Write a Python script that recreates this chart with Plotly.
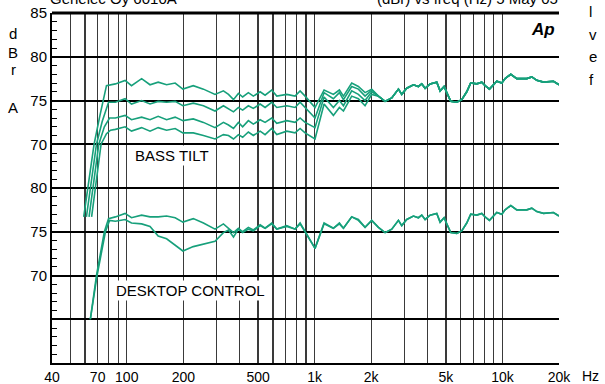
import math
import plotly.graph_objects as go

# ---------------- data (dBr A vs frequency, Hz) ----------------
# Bass-tilt family (upper block), four curves; individual bass roll-off
TILT1_LOW_F = [59, 63, 67, 72, 78]
TILT1_LOW_V = [61.7, 65.8, 70.0, 73.3, 76.7]
TILT2_LOW_F = [61, 65, 69, 74, 80]
TILT2_LOW_V = [61.7, 65.8, 70.0, 72.6, 74.8]
TILT3_LOW_F = [63, 67, 71, 76, 81]
TILT3_LOW_V = [61.7, 65.8, 70.0, 72.0, 73.0]
TILT4_LOW_F = [65, 69, 73, 78, 82]
TILT4_LOW_V = [61.7, 65.8, 70.0, 71.2, 71.6]

MID_F = [87, 98, 106, 120, 133, 147, 163, 181, 199, 226, 256, 295, 327, 348,
         370, 393, 414, 444, 472, 513, 545, 591, 629, 711, 787, 837, 890,
         1005, 1123, 1259, 1355, 1424, 1576, 1710, 1856, 2014]
TILT1_MID = [76.9, 77.3, 76.7, 77.5, 76.8, 77.1, 76.8, 77.0, 76.3, 76.7, 76.3,
             75.7, 76.1, 75.7, 75.1, 75.8, 75.4, 75.9, 75.5, 76.0, 75.6, 76.2,
             75.5, 75.7, 75.5, 76.1, 75.5, 74.2, 76.2, 75.7, 76.2, 75.5, 77.0,
             76.6, 75.9, 76.3]
TILT2_MID = [74.8, 75.2, 74.6, 75.0, 74.6, 74.9, 74.8, 74.9, 74.4, 74.7, 74.4,
             73.8, 74.4, 74.0, 73.7, 74.2, 73.9, 74.4, 74.1, 74.6, 74.2, 74.8,
             74.2, 74.4, 74.2, 74.8, 74.2, 73.0, 75.9, 75.2, 75.9, 75.1, 76.6,
             76.3, 75.5, 76.2]
TILT3_MID = [73.0, 73.3, 72.8, 73.1, 72.8, 73.2, 72.8, 73.1, 72.7, 72.9, 72.5,
             71.9, 72.5, 72.2, 71.8, 72.5, 72.0, 72.7, 72.3, 72.8, 72.5, 73.0,
             72.4, 72.7, 72.5, 73.0, 72.5, 71.9, 75.4, 74.2, 75.0, 74.4, 76.1,
             75.7, 75.0, 76.0]
TILT4_MID = [71.7, 72.0, 71.5, 71.9, 71.5, 71.9, 71.6, 71.8, 71.3, 71.3, 71.0,
             70.6, 71.1, 71.0, 70.6, 71.1, 70.8, 71.4, 71.0, 71.5, 71.1, 71.8,
             71.1, 71.5, 71.3, 71.8, 71.3, 70.6, 74.6, 73.3, 74.2, 73.8, 75.5,
             75.2, 74.4, 75.7]

# Desktop-control family (lower block, drawn 15 dB down as on the original)
DESK_A_LOW_F = [64, 69, 76, 80]
DESK_A_LOW_V = [65.0, 70.0, 75.0, 76.5]
DESK_B_LOW_F = [64, 69.5, 77, 81]
DESK_B_LOW_V = [65.0, 70.0, 75.0, 76.3]
DESK_A_MID = [76.7, 77.1, 76.6, 76.9, 76.7, 76.7, 76.8, 76.6, 76.1, 76.5, 76.0,
              75.3, 75.9, 75.4, 74.9, 75.4, 75.0, 75.5, 75.2, 75.8, 75.4, 76.0,
              75.3, 75.7, 75.3, 76.0, 75.0, 73.1, 76.0, 75.4, 76.0, 75.4, 76.7,
              76.4, 75.5, 76.3]
DESK_B_MID = [76.2, 76.4, 76.0, 75.9, 75.6, 74.5, 74.2, 73.5, 72.8, 73.3, 73.6,
              73.9, 74.9, 75.2, 74.4, 75.3, 74.9, 75.3, 75.1, 75.7, 75.4, 75.9,
              75.3, 75.6, 75.3, 75.9, 75.0, 73.1, 75.9, 75.4, 75.9, 75.4, 76.7,
              76.3, 75.5, 76.3]

# Treble response shared by all curves
TREBLE_F = [2186, 2372, 2575, 2794, 2910, 3094, 3358, 3569, 3719, 3874, 4118,
            4470, 4657, 4892, 5054, 5307, 5713, 6071, 6456, 6780, 7298, 7760,
            8083, 8527, 9331, 9919, 10333, 11076, 11921, 13478, 14330, 15236,
            16531, 18690, 20000]
TREBLE_V = [75.5, 74.9, 75.3, 76.3, 75.7, 76.4, 76.8, 76.6, 76.9, 76.4, 76.9,
            77.1, 76.1, 76.6, 75.9, 74.9, 74.8, 75.1, 76.0, 77.0, 76.9, 77.1,
            76.7, 76.3, 77.2, 77.0, 77.5, 78.0, 77.5, 77.5, 77.7, 77.3, 77.1,
            77.2, 76.8]

LOWER_BLOCK_OFFSET_DB = 15

X_TICK_VALS = [40, 70, 100, 200, 500, 1000, 2000, 5000, 10000, 20000]
X_TICK_TEXT = ["40", "70", "100", "200", "500", "1k", "2k", "5k", "10k", "20k"]
X_MINOR_GRID = [50, 60, 80, 90, 300, 400, 600, 700, 800, 900,
                3000, 4000, 6000, 7000, 8000, 9000]
Y_TICK_VALS = [85, 80, 75, 70, 65, 60, 55, 50]
Y_TICK_TEXT = ["85", "80", "75", "70", "80", "75", "70", ""]

# ---------------- figure ----------------
W, H = 605, 384
L, T = 52, 13                 # plot area: x 52..559, y 13..363
PW, PH = 507, 350
R, B = W - L - PW, H - T - PH


def px(x):                    # pixel -> paper
    return (x - L) / PW


def py(y):
    return 1 - (y - T) / PH


GREEN = "#17a07b"
FONT = "Liberation Sans, Arial, Helvetica, sans-serif"

fig = go.Figure()


def add_curve(low_f, low_v, mid_v, offset=0):
    f = low_f + MID_F + TREBLE_F
    v = low_v + mid_v + TREBLE_V
    fig.add_trace(go.Scatter(
        x=f, y=[val - offset for val in v], mode="lines",
        line=dict(color=GREEN, width=1.6), hoverinfo="skip", showlegend=False))


add_curve(TILT4_LOW_F, TILT4_LOW_V, TILT4_MID)
add_curve(TILT3_LOW_F, TILT3_LOW_V, TILT3_MID)
add_curve(TILT2_LOW_F, TILT2_LOW_V, TILT2_MID)
add_curve(TILT1_LOW_F, TILT1_LOW_V, TILT1_MID)
add_curve(DESK_B_LOW_F, DESK_B_LOW_V, DESK_B_MID, LOWER_BLOCK_OFFSET_DB)
add_curve(DESK_A_LOW_F, DESK_A_LOW_V, DESK_A_MID, LOWER_BLOCK_OFFSET_DB)

fig.update_xaxes(
    type="log", range=[math.log10(40), math.log10(20000)],
    tickmode="array", tickvals=X_TICK_VALS, ticktext=X_TICK_TEXT,
    showgrid=True, gridcolor="#3a3a3a", gridwidth=1.2,
    minor=dict(tickmode="array", tickvals=X_MINOR_GRID, showgrid=True,
               gridcolor="#3a3a3a", gridwidth=1.2, ticks=""),
    showline=True, linecolor="black", linewidth=2, ticks="", zeroline=False,
    automargin=False, ticklabeloverflow="allow",
    tickfont=dict(family=FONT, size=14, color="black"),
)
fig.update_yaxes(
    range=[45, 85], tickmode="array", tickvals=Y_TICK_VALS, ticktext=Y_TICK_TEXT,
    showgrid=True, gridcolor="black", gridwidth=2,
    minor=dict(tickmode="linear", tick0=45, dtick=1, ticks="inside",
               ticklen=5, tickcolor="black", tickwidth=1, showgrid=False),
    showline=True, linecolor="black", linewidth=2, ticks="", zeroline=False,
    automargin=False, ticklabeloverflow="allow",
    tickfont=dict(family=FONT, size=15, color="black"),
)

ann = []


def text(s, x, y, size=15, xanchor="center", yanchor="middle", **kw):
    ann.append(dict(text=s, x=px(x), y=py(y), xref="paper", yref="paper",
                    xanchor=xanchor, yanchor=yanchor, showarrow=False,
                    font=dict(family=FONT, size=size, color="black"), **kw))


for ch, yy in zip(["d", "B", "r", "A"], [33, 52, 70, 107]):
    text(ch, 13, yy)
text("BASS TILT", 172, 155, bgcolor="white", borderpad=1)
text("DESKTOP CONTROL", 190, 290, bgcolor="white", borderpad=1)
text("<b><i>Ap</i></b>", 543, 29, size=17)
text("Hz", 590, 376, size=14)
text("Genelec Oy 6010A", 48, -1, xanchor="left")
text("(dBr) vs freq (Hz) 5 May 05", 375, -1, xanchor="left")
for ch, yy in zip(["l", "v", "e", "f"], [12, 34, 57, 80]):
    text(ch, 587, yy, xanchor="left")

fig.update_layout(
    width=W, height=H,
    margin=dict(l=L, r=R, t=T, b=B, autoexpand=False),
    plot_bgcolor="white", paper_bgcolor="white",
    annotations=ann,
    shapes=[dict(type="line", xref="paper", yref="paper", x0=0, x1=1,
                 y0=1, y1=1, line=dict(color="black", width=3))],
)

# page body without its default 8 px margin so the figure fills the window
fig.write_html("out.html",
               config={"displayModeBar": False, "staticPlot": True},
               post_script="document.body.style.margin='0';")
